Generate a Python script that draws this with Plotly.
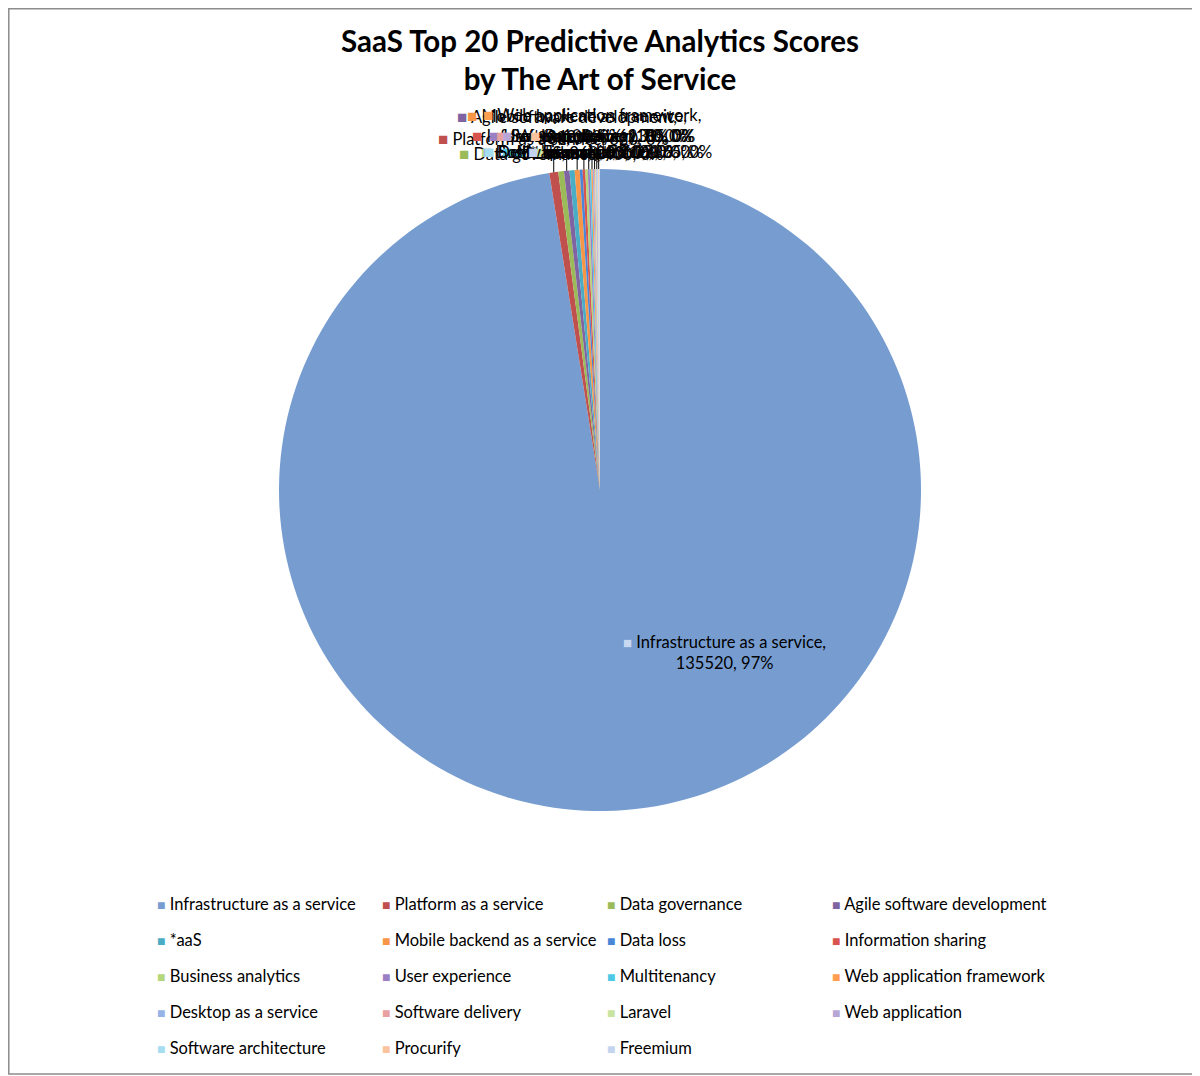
import math
import plotly.graph_objects as go

# --- chart data ---
labels = [
    "Infrastructure as a service", "Platform as a service", "Data governance",
    "Agile software development", "*aaS", "Mobile backend as a service",
    "Data loss", "Information sharing", "Business analytics", "User experience",
    "Multitenancy", "Web application framework", "Desktop as a service",
    "Software delivery", "Laravel", "Web application", "Software architecture",
    "Procurify", "Freemium",
]
scores = [
    135520, 620, 400, 380, 360, 348, 200, 185, 176, 130,
    110, 100, 90, 80, 75, 70, 65, 62, 60,
]

colors = [
    "#779DD0", "#C0504D", "#9BBB59", "#8064A2", "#4BACC6", "#F79646",
    "#4A86D8", "#D9534F", "#B3D77A", "#9B7FC4", "#4DC8E6", "#FF9E4F",
    "#95B3E7", "#E8A0A0", "#C9E3A0", "#B7A6D6", "#A6DDF0", "#FBC29E",
    "#C4D4EE",
]

FONT = "Lato"
W, H = 1200, 1076
OFF = 8                      # the page puts the figure 8px in from the corner
PIE_TOP, PIE_BOTTOM = 169 - OFF, 811 - OFF
PIE_CX = 600 - OFF


def px(x):
    return x / W


def py(y):
    return 1 - y / H


def key(color, size=12):
    # small coloured square used in front of labels, like Excel's legend keys
    return "<span style='color:%s;font-size:%dpx'>■</span> " % (color, size)


total = sum(scores)
pct = [round(v / total * 100) for v in scores]

fig = go.Figure()
fig.add_trace(go.Pie(
    labels=labels,
    values=scores,
    sort=False,
    direction="clockwise",
    rotation=0,
    marker=dict(colors=colors, line=dict(width=0)),
    textinfo="none",
    hovertemplate="%{label}: %{value} (%{percent})<extra></extra>",
    domain=dict(x=[0, 2 * px(PIE_CX)], y=[py(PIE_BOTTOM), py(PIE_TOP)]),
    automargin=False,
    showlegend=False,
))

# --- data labels, placed the way Excel does: just outside each slice ---
cx, cy = PIE_CX, (PIE_TOP + PIE_BOTTOM) / 2
r = (PIE_BOTTOM - PIE_TOP) / 2

fig.add_annotation(
    x=px(724 - OFF), y=py(652 - OFF), xref="paper", yref="paper",
    text=key("#C8D8F0", 15) + "%s,<br>%d, %d%%" % (labels[0], scores[0], pct[0]),
    showarrow=False, align="center",
    font=dict(family=FONT, size=16.5, color="#000000"),
)

cum = scores[0]
for i in range(1, len(scores)):
    mid = (cum + scores[i] / 2) / total * 2 * math.pi
    cum += scores[i]
    tip_x = cx + r * math.sin(mid)
    tip_y = cy - r * math.cos(mid)
    txt = "%s, %d, %d%%" % (labels[i], scores[i], pct[i])
    if len(txt) > 30:
        txt = "%s,<br>%d, %d%%" % (labels[i], scores[i], pct[i])
    lift = 5 + 16 * (i % 2)
    fig.add_annotation(
        x=px(tip_x), y=py(tip_y), xref="paper", yref="paper",
        ax=0, ay=-lift, axref="pixel", ayref="pixel",
        text=key(colors[i], 17) + txt, align="center",
        xanchor="center", yanchor="bottom",
        showarrow=True, arrowhead=0, arrowwidth=1,
        arrowcolor="#000000" if i % 2 else "rgba(0,0,0,0)",
        font=dict(family=FONT, size=16.5, color="#000000"),
    )

# --- legend under the pie: 4 columns, Excel spacing ---
LEG_X0, LEG_COL = 155 - OFF, 225
LEG_Y0, LEG_ROW = 904 - OFF, 36
for k, name in enumerate(labels):
    col, row = k % 4, k // 4
    fig.add_annotation(
        x=px(LEG_X0 + col * LEG_COL), y=py(LEG_Y0 + row * LEG_ROW),
        xref="paper", yref="paper", xanchor="left", yanchor="middle",
        text=key(colors[k], 14) + name, showarrow=False, align="left",
        font=dict(family=FONT, size=16.5, color="#000000"),
    )

# thin frame around the chart area
fig.add_shape(
    type="rect", xref="paper", yref="paper",
    x0=px(0.8), x1=px(1198 - OFF), y0=py(1074 - OFF), y1=py(0.8),
    line=dict(color="#8C8C8C", width=1.5),
)

fig.update_layout(
    width=W, height=H,
    paper_bgcolor="white",
    margin=dict(l=0, r=0, t=0, b=0, autoexpand=False),
    font=dict(family=FONT, color="#000000"),
    title=dict(
        text="<b>SaaS Top 20 Predictive Analytics Scores<br>by The Art of Service</b>",
        x=(600 - OFF) / W, xanchor="center", y=1 - 44 / H, yanchor="middle",
        font=dict(family=FONT, size=29.5, color="#000000"),
    ),
    showlegend=False,
)

fig.write_html("out.html")
